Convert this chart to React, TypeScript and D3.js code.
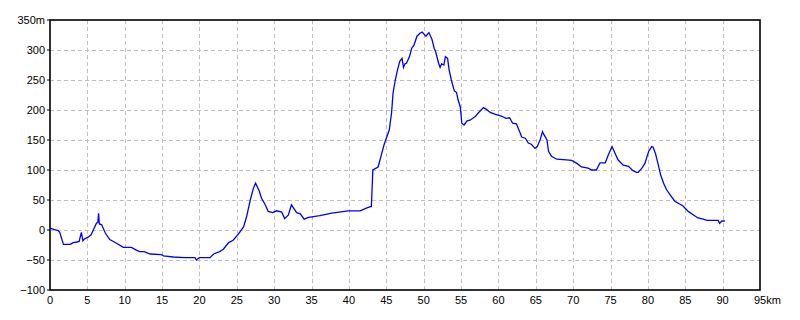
import React from "react";
import * as d3 from "d3";

const distanceKm: number[] = [
  0, 0.5, 1.1, 1.3, 1.8, 2.7, 3.1, 3.6, 3.9, 4.2, 4.4, 4.6, 5.1, 5.5, 5.8, 6.2, 6.4, 6.5, 6.6, 6.9,
  7.4, 8.0, 8.9, 9.8, 10.9, 11.6, 12.0, 12.6, 13.4, 14.9, 15.2, 16.5, 18.0, 19.4, 19.6, 20.0,
  21.4, 21.9, 22.7, 23.2, 23.9, 24.5, 25.2, 25.9, 26.3, 26.8, 27.2, 27.5, 28.0, 28.3, 28.8, 29.2,
  29.8, 30.3, 31.0, 31.4, 31.9, 32.3, 33.0, 33.5, 34.0, 34.6, 36.1, 37.7, 39.9, 41.5, 42.4, 42.9,
  43.0, 43.2, 43.9, 44.4, 44.7, 45.0, 45.4, 45.7, 45.9, 46.2, 46.5, 46.8, 47.1, 47.3, 47.5, 47.7,
  48.1, 48.4, 48.7, 49.1, 49.5, 49.8, 50.3, 50.7, 51.1, 51.4, 51.6, 52.0, 52.2, 52.4, 52.7, 52.9,
  53.2, 53.4, 53.7, 54.1, 54.4, 54.6, 54.9, 55.1, 55.4, 55.8, 56.2, 56.9, 57.3, 58.0, 58.4, 58.9,
  59.5, 60.4, 61.0, 61.5, 61.9, 62.4, 62.9, 63.1, 63.6, 64.0, 64.4, 64.9, 65.2, 65.6, 65.9, 66.0,
  66.5, 66.7, 67.1, 67.8, 69.1, 69.8, 70.5, 71.1, 72.0, 72.5, 73.1, 73.6, 74.3, 74.7, 75.2, 75.6,
  76.0, 76.7, 77.4, 78.0, 78.5, 78.7, 79.2, 79.6, 80.1, 80.5, 80.7, 81.0, 81.4, 81.7, 82.1, 82.5,
  83.0, 83.6, 84.3, 84.7, 85.4, 86.1, 86.7, 87.4, 87.9, 89.4, 89.6, 89.9, 90.3,
];

const elevationM: number[] = [
  3, 1, -1, -4, -24, -24, -21, -20, -19, -4, -18, -15, -12, -8, 0, 11, 13, 28, 10, 9,
  -5, -16, -22, -29, -29, -34, -36, -36, -40, -41, -43, -45, -46, -46, -50, -46,
  -46, -40, -36, -32, -21, -17, -7, 5, 22, 50, 69, 78, 65, 53, 42, 31,
  29, 32, 30, 19, 25, 42, 29, 27, 18, 21, 24, 28, 32, 32, 37, 39,
  39, 100, 105, 128, 142, 153, 167, 195, 228, 250, 267, 281, 286, 271, 277, 278,
  289, 303, 308, 323, 328, 330, 323, 329, 318, 303, 297, 278, 271, 277, 275, 289,
  286, 267, 250, 232, 229, 217, 205, 178, 175, 182, 183, 189, 195, 204, 201, 196,
  193, 190, 186, 187, 178, 177, 162, 155, 153, 145, 143, 136, 139, 151, 164, 161,
  150, 131, 123, 118, 117, 116, 111, 105, 103, 100, 100, 112, 112, 125, 139, 128,
  117, 108, 106, 99, 96, 96, 103, 111, 131, 139, 138, 128, 108, 92, 78, 67,
  58, 48, 43, 40, 31, 25, 20, 18, 16, 16, 11, 15, 15,
];

const xTicks: number[] = [0, 5, 10, 15, 20, 25, 30, 35, 40, 45, 50, 55, 60, 65, 70, 75, 80, 85, 90, 95];
const yTicks: number[] = [-100, -50, 0, 50, 100, 150, 200, 250, 300, 350];

const W = 800;
const H = 320;
const left = 50;
const right = 760;
const top = 20;
const bottom = 290;
const font = "'Liberation Sans', Arial, sans-serif";

export default function App() {
  const x = d3.scaleLinear().domain([0, 95]).range([left, right]);
  const y = d3.scaleLinear().domain([-100, 350]).range([bottom, top]);
  const line = d3
    .line<number>()
    .x((_, i) => x(distanceKm[i]))
    .y((d) => y(d));

  return (
    <svg
      width={W}
      height={H}
      style={{ position: "absolute", left: 0, top: 0, background: "#fff" }}
    >
      <rect x={0} y={0} width={W} height={H} fill="#fff" />
      {xTicks.slice(1, -1).map((t) => (
        <line
          key={"gx" + t}
          x1={Math.round(x(t)) + 0.5}
          x2={Math.round(x(t)) + 0.5}
          y1={top}
          y2={bottom}
          stroke="#c0c0c0"
          strokeDasharray="4,3"
        />
      ))}
      {yTicks.slice(1, -1).map((t) => (
        <line
          key={"gy" + t}
          x1={left}
          x2={right}
          y1={Math.round(y(t)) + 0.5}
          y2={Math.round(y(t)) + 0.5}
          stroke="#c0c0c0"
          strokeDasharray="4,3"
        />
      ))}
      <path d={line(elevationM) || ""} fill="none" stroke="#0000ff" strokeWidth={1.3} />
      <rect
        x={left}
        y={top}
        width={right - left}
        height={bottom - top}
        fill="none"
        stroke="#000"
        strokeWidth={1.6}
      />
      {yTicks.map((t) => (
        <g key={"ty" + t}>
          <line x1={left - 3} x2={left} y1={y(t)} y2={y(t)} stroke="#000" />
          <text
            x={45}
            y={y(t)}
            dy="0.36em"
            textAnchor="end"
            fontFamily={font}
            fontSize={11}
            fill="#000"
          >
            {t === 350 ? "350m" : t === -100 ? "\u2212100" : t < 0 ? "\u221250" : String(t)}
          </text>
        </g>
      ))}
      {xTicks.map((t) => (
        <text
          key={"tx" + t}
          x={t === 95 ? x(t) - 6 : x(t)}
          y={300}
          dy="0.36em"
          textAnchor={t === 95 ? "start" : "middle"}
          fontFamily={font}
          fontSize={11}
          fill="#000"
        >
          {t === 95 ? "95km" : String(t)}
        </text>
      ))}
    </svg>
  );
}
